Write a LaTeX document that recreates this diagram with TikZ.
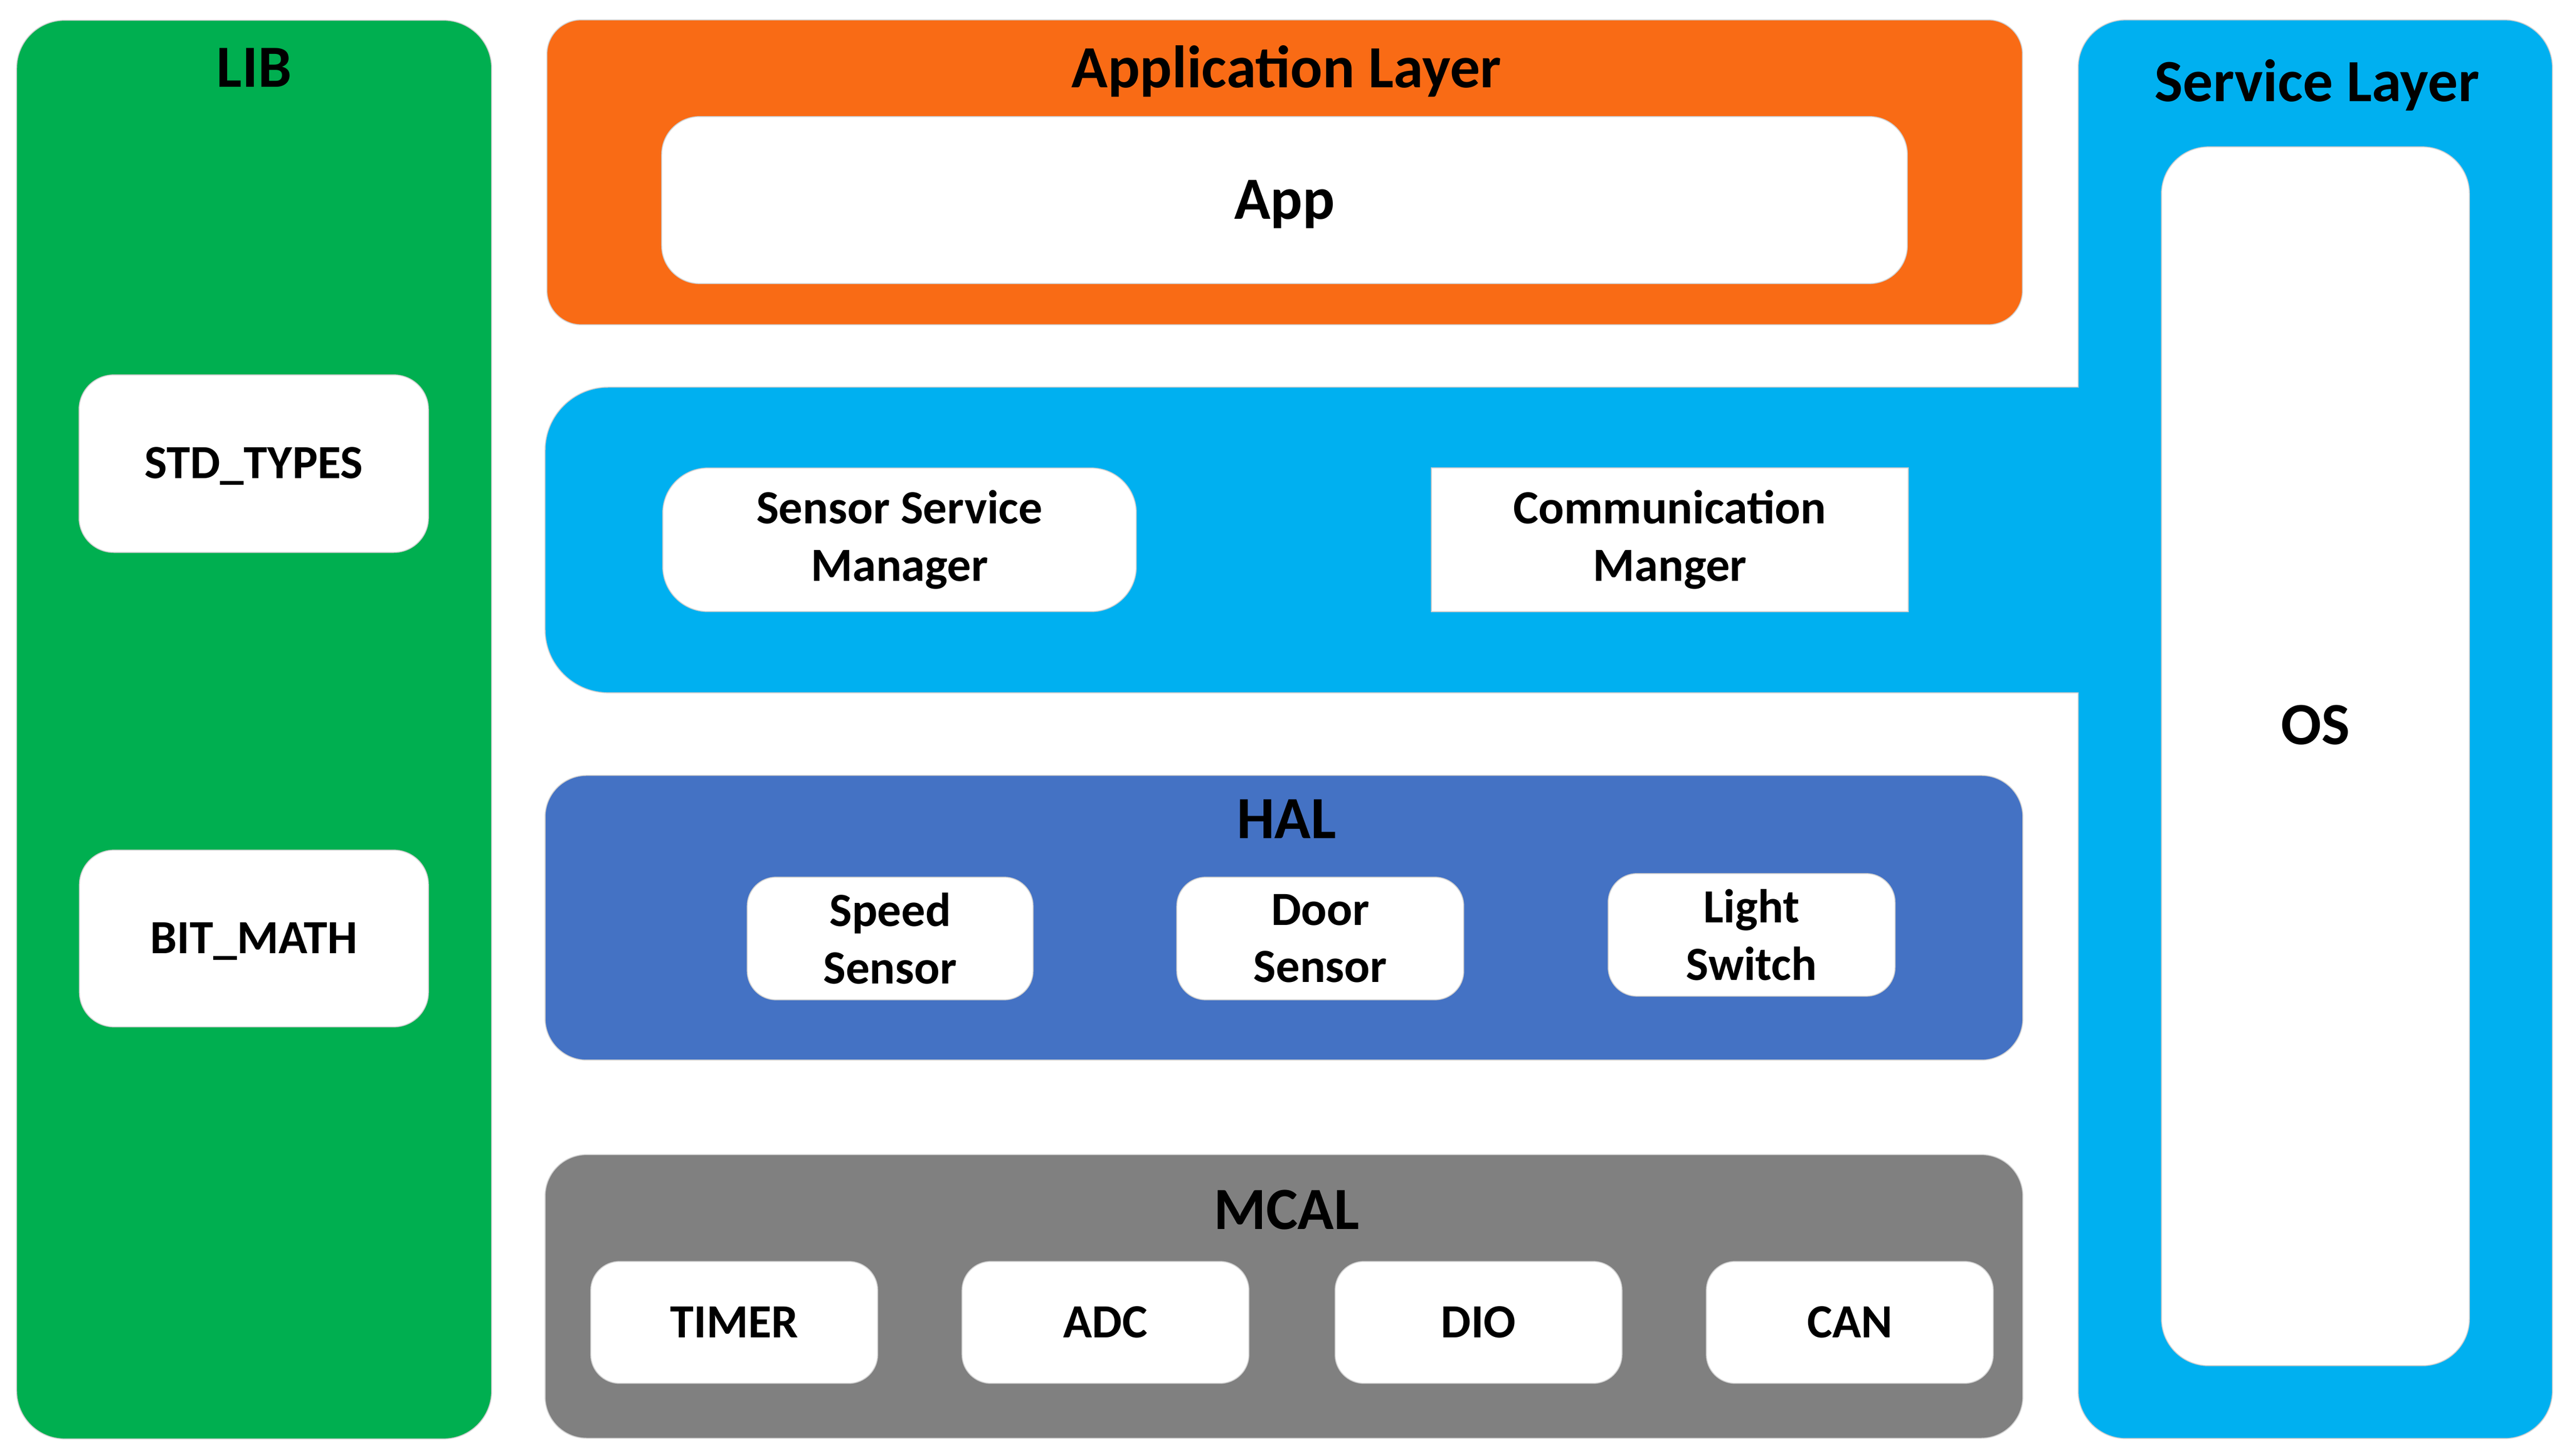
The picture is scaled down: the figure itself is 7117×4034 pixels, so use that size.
\documentclass[tikz,border=0pt]{standalone}
\usepackage{fontspec}
\setmainfont{Carlito}
\definecolor{libgreen}{HTML}{00AF50}
\definecolor{apporange}{HTML}{F96B15}
\definecolor{svcblue}{HTML}{00B0F0}
\definecolor{halblue}{HTML}{4472C4}
\definecolor{mcalgray}{HTML}{808080}
\definecolor{edgegray}{HTML}{D0D0D0}
\begin{document}
\begin{tikzpicture}[x=0.1pt,y=-0.1pt,
  panel/.style={rectangle, draw=edgegray, line width=0.25pt, inner sep=0pt, outer sep=0pt},
  wbox/.style={panel, fill=white},
  titletext/.style={font=\fontsize{16.6}{20}\selectfont\bfseries, text height=10.5pt, text depth=0pt, inner sep=0pt},
  smalltext/.style={font=\fontsize{13.2}{15.9}\selectfont\bfseries, align=center},
  capone/.style={text height=8.3pt, text depth=0pt},
  modbox/.style={wbox, smalltext, rounded corners=8pt, minimum width=79.5pt, minimum height=34pt},
]
\useasboundingbox (0,0) rectangle (7117,4034);

% LIB column
\node[panel, fill=libgreen, rounded corners=13.3pt, minimum width=131.6pt, minimum height=393.2pt] (lib) at (704,2022) {};
\node[titletext] (libt) at (704,189) {LIB};
\node[wbox, smalltext, capone, rounded corners=9.6pt, minimum width=96.8pt, minimum height=49.2pt] (std) at (703,1285) {STD\_TYPES};
\node[wbox, smalltext, capone, rounded corners=9.6pt, minimum width=96.7pt, minimum height=49pt] (bit) at (703.5,2601) {BIT\_MATH};

% Application layer
\node[panel, fill=apporange, rounded corners=9.5pt, minimum width=408.8pt, minimum height=84.5pt] (appl) at (3559,477.5) {};
\node[titletext] (applt) at (3564,190) {Application Layer};
\node[wbox, titletext, inner sep=0pt, rounded corners=10.5pt, minimum width=345.1pt, minimum height=46.3pt] (app) at (3558.5,554.5) {App};

% Service layer (column + band)
\node[panel, fill=svcblue, rounded corners=13.2pt, minimum width=131.4pt, minimum height=393.2pt] (svc) at (6414,2021) {};
\path[fill=svcblue, draw=edgegray, line width=0.25pt, rounded corners=17.5pt]
  (5757,1073) -- (1510,1073) -- (1510,1920) -- (5757,1920);
\fill[svcblue] (5748,1075) rectangle (5768,1918);
\node[titletext] (svct) at (6419,228) {Service Layer};
\node[wbox, rounded corners=13pt, minimum width=85.3pt, minimum height=337.8pt] (os) at (6414.5,2096) {};
\node[titletext] (ost) at (6415,2011) {OS};
\node[wbox, smalltext, rounded corners=12.5pt, minimum width=131.2pt, minimum height=39.8pt] (ssm) at (2492,1496) {Sensor Service\\Manager};
\node[wbox, smalltext, minimum width=132pt, minimum height=39.8pt] (com) at (4626,1496) {Communication\\Manger};

% HAL
\node[panel, fill=halblue, rounded corners=11.5pt, minimum width=409.4pt, minimum height=78.9pt] (hal) at (3557,2543.5) {};
\node[titletext] (halt) at (3564,2271) {HAL};
\node[modbox, minimum width=79.2pt] (speed) at (2466,2601) {Speed\\Sensor};
\node[modbox] (door) at (3657.5,2601) {Door\\Sensor};
\node[modbox] (light) at (4852.5,2591) {Light\\Switch};

% MCAL
\node[panel, fill=mcalgray, rounded corners=11.5pt, minimum width=409.4pt, minimum height=78.6pt] (mcal) at (3557,3593) {};
\node[titletext] (mcalt) at (3564,3355) {MCAL};
\node[modbox, capone, minimum height=33.8pt] (timer) at (2034,3665) {TIMER};
\node[modbox, capone, minimum height=33.8pt] (adc) at (3062.5,3665) {ADC};
\node[modbox, capone, minimum height=33.8pt] (dio) at (4096,3665) {DIO};
\node[modbox, capone, minimum height=33.8pt] (can) at (5124.5,3665) {CAN};
\end{tikzpicture}
\end{document}
